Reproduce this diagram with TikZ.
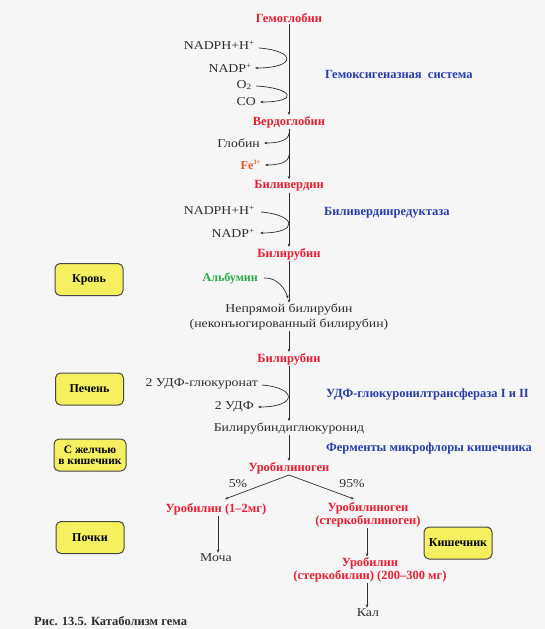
\documentclass[tikz,border=0pt]{standalone}
\usepackage{fontspec}
\setmainfont{Liberation Serif}
\newfontfamily\regfont[FakeStretch=1.15]{Liberation Serif}
\usetikzlibrary{arrows.meta}
\definecolor{hred}{RGB}{232,30,50}
\definecolor{hblue}{RGB}{40,60,170}
\definecolor{hgreen}{RGB}{40,170,70}
\definecolor{horange}{RGB}{240,80,30}
\definecolor{boxyel}{RGB}{245,240,95}
\definecolor{txt}{RGB}{45,45,45}
\definecolor{bg}{RGB}{246,246,246}
\tikzset{
  >={Stealth[length=3.4pt,width=2.6pt]},
  every node/.style={inner sep=1pt, text=txt, font=\regfont\fontsize{12}{15}\selectfont},
  redlbl/.style={text=hred, font=\fontsize{12.5}{12.5}\selectfont\bfseries},
  bluelbl/.style={text=hblue, font=\fontsize{12.5}{14}\selectfont\bfseries, anchor=west},
  side/.style={anchor=east, text=txt},
  ybox/.style={draw=black!72, line width=1pt, fill=boxyel, rounded corners=5pt,
     minimum width=68pt, minimum height=32pt, align=center, inner sep=1pt,
     font=\fontsize{12}{11}\selectfont\bfseries, text=black},
  conn/.style={->, line width=0.7pt, draw=txt},
  sidearrow/.style={->, line width=0.7pt, draw=txt},
}
\begin{document}
\begin{tikzpicture}[x=1pt,y=-1pt]
\fill[bg] (0,0) rectangle (545,629);
\useasboundingbox (0,0) rectangle (545,629);
% main chain
\node[redlbl] (hb) at (289,18) {Гемоглобин};
\node[side] (nadph1) at (256,45) {NADPH+H\textsuperscript{+}};
\node[side] (nadp1) at (253,68) {NADP\textsuperscript{+}};
\node[side] (o2) at (253,85) {O\textsubscript{2}};
\node[side] (co) at (257,102) {CO};
\node[bluelbl] (enz1) at (324,74) {Гемоксигеназная\ \ система};
\node[redlbl] (vg) at (289,122) {Вердоглобин};
\node[side] (glob) at (261,143) {Глобин};
\node[side, text=horange, font=\fontsize{12}{12}\selectfont\bfseries] (fe) at (262,165) {Fe\textsuperscript{\fontsize{6.5}{6.5}\selectfont 3+}};
\node[redlbl] (bv) at (289,186) {Биливердин};
\node[side] (nadph2) at (256,210) {NADPH+H\textsuperscript{+}};
\node[side] (nadp2) at (256,233) {NADP\textsuperscript{+}};
\node[bluelbl] (enz2) at (323,213) {Биливердинредуктаза};
\node[redlbl] (br1) at (289,254) {Билирубин};
\node[side, text=hgreen, font=\fontsize{12}{12}\selectfont\bfseries] (alb) at (259,278) {Альбумин};
\node[align=center] (ibr) at (289,317) {Непрямой билирубин\\(неконъюгированный билирубин)};
\node[redlbl] (br2) at (289,359) {Билирубин};
\node[side] (udpg) at (259,384) {2 УДФ-глюкуронат};
\node[side] (udp) at (255,407) {2 УДФ};
\node[bluelbl] (enz3) at (325,395) {УДФ-глюкуронилтрансфераза I и II};
\node (bdg) at (289,428) {Билирубиндиглюкуронид};
\node[bluelbl] (enz4) at (325,448) {Ферменты микрофлоры кишечника};
\node[redlbl] (ubg) at (289,468) {Уробилиноген};
\node (p5) at (238,484) {5\%};
\node (p95) at (352,484) {95\%};
\node[redlbl] (ub1) at (216,509) {Уробилин (1--2мг)};
\node[redlbl, align=center] (ubg2) at (368,515) {Уробилиноген\\(стеркобилиноген)};
\node (urine) at (216,558) {Моча};
\node[redlbl, align=center] (ub2) at (370,570) {Уробилин\\(стеркобилин) (200--300 мг)};
\node (feces) at (368,613) {Кал};
\node[anchor=west, font=\fontsize{12.5}{14}\selectfont\bfseries] (cap) at (33,621) {Рис. 13.5. Катаболизм гема};
% boxes
\node[ybox] (blood) at (89,279.5) {Кровь};
\node[ybox] (liver) at (89.5,389) {Печень};
\node[ybox, minimum width=72pt, font=\fontsize{11.5}{10.5}\selectfont\bfseries] (bile) at (90,455) {С желчью\\в кишечник};
\node[ybox] (kidney) at (90,537.5) {Почки};
\node[ybox] (gut) at (458,543) {Кишечник};
% coordinates on the main line
\coordinate (g1) at (289,133);
\coordinate (g2) at (289,155);
\coordinate (lend) at (225,499);
\coordinate (rend) at (354,499);
% connectors
\draw[conn] (hb.south) -- (vg.north);
\draw[sidearrow] ([xshift=3pt,yshift=-3pt]nadph1.east) .. controls +(38,3) and +(41,0) .. ([xshift=2pt]nadp1.east);
\draw[sidearrow] ([xshift=3pt,yshift=-1pt]o2.east) .. controls +(37,2) and +(40,0) .. ([xshift=3pt]co.east);
\draw[conn] (vg.south) -- (bv.north);
\draw[sidearrow] (g1) .. controls (289,141) and (277,143) .. ([xshift=3pt]glob.east);
\draw[sidearrow] (g2) .. controls (289,163) and (277,165) .. ([xshift=3pt]fe.east);
\draw[conn] (bv.south) -- (br1.north);
\draw[sidearrow] ([xshift=5pt,yshift=-2pt]nadph2.east) .. controls +(36,3) and +(39,0) .. ([xshift=4pt]nadp2.east);
\draw[conn] (br1.south) -- (ibr.north);
\draw[sidearrow] ([xshift=5pt]alb.east) .. controls +(14,-1) and +(-2,-8) .. ([xshift=-1pt,yshift=4pt]ibr.north);
\draw[conn] (ibr.south) -- (br2.north);
\draw[conn] (br2.south) -- (bdg.north);
\draw[sidearrow] ([xshift=3pt,yshift=-1pt]udpg.east) .. controls +(36,3) and +(39,0) .. ([xshift=3pt]udp.east);
\draw[conn] (bdg.south) -- (ubg.north);
\draw[conn] (ubg.south) -- (lend);
\draw[conn] (ubg.south) -- (rend);
\draw[conn] ([xshift=2pt]ub1.south) -- ([xshift=2pt]urine.north);
\draw[conn] ([xshift=-1pt]ubg2.south) -- ([xshift=-1pt]ubg2.south |- ub2.north);
\draw[conn] ([xshift=-1pt]feces.north |- ub2.south) -- ([xshift=-1pt]feces.north);
\end{tikzpicture}
\end{document}
